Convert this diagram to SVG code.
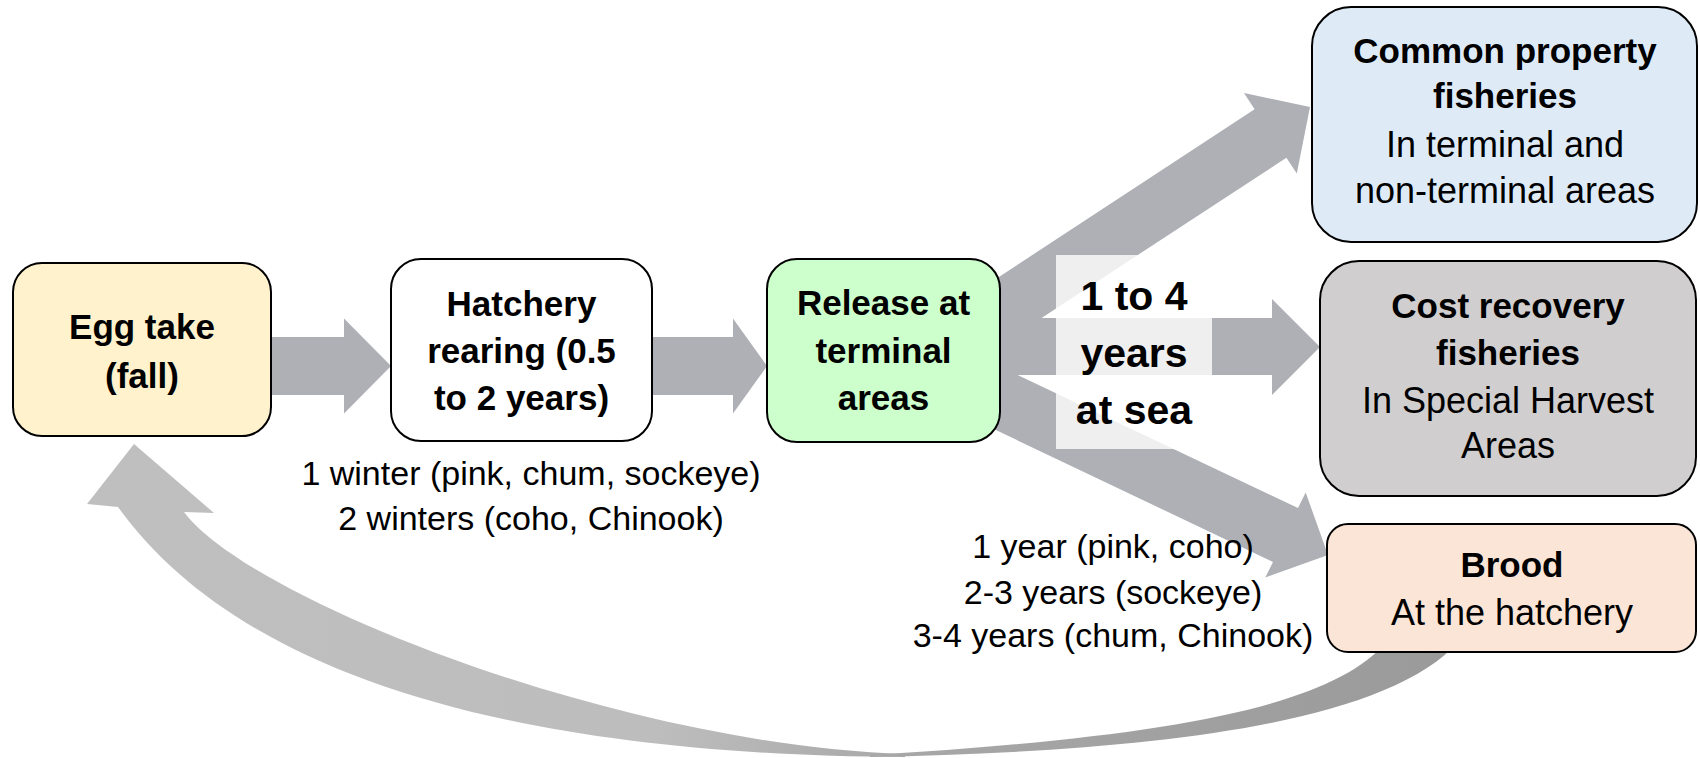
<svg xmlns="http://www.w3.org/2000/svg" width="1700" height="758" viewBox="0 0 1700 758">
<style>
.box{stroke:#000;stroke-width:2}
.arr{fill:#aeb0b6}
.b{font-family:"Liberation Sans",Arial,sans-serif;font-weight:bold;font-size:35px;fill:#000;text-anchor:middle}
.r{font-family:"Liberation Sans",Arial,sans-serif;font-size:36px;fill:#000;text-anchor:middle}
.a{font-family:"Liberation Sans",Arial,sans-serif;font-size:34px;fill:#000;text-anchor:middle}
.big{font-family:"Liberation Sans",Arial,sans-serif;font-weight:bold;font-size:41px;fill:#000;text-anchor:middle}
</style>
<defs>
  <linearGradient id="gl" x1="0" y1="0" x2="1" y2="0">
    <stop offset="0" stop-color="#bfbfbf"/>
    <stop offset="0.7" stop-color="#bdbdbd"/>
    <stop offset="1" stop-color="#a8a8a8"/>
  </linearGradient>
  <linearGradient id="gr" x1="0" y1="0" x2="1" y2="0">
    <stop offset="0" stop-color="#a8a8a8"/>
    <stop offset="1" stop-color="#9a9a9a"/>
  </linearGradient>
</defs>
<rect width="1700" height="758" fill="#fff"/>
<g id="connectors">
  <path class="arr" d="M260,337 L344,337 L344,318.5 L391,366 L344,413.5 L344,395 L260,395 Z"/>
  <path class="arr" d="M640,337 L733,337 L733,318.5 L767,366 L733,413.5 L733,395 L640,395 Z"/>
  <path class="arr" d="M924,326 L1254.6,109.3 L1244,93 L1310,107 L1296.8,173.6 L1286.4,157.7 L956,374 Z"/>
  <path class="arr" d="M950,318 L1272,318 L1272,299 L1320,347 L1272,395 L1272,375 L950,375 Z"/>
  <path class="arr" d="M962.7,348.9 L1298,508 L1305.7,492.6 L1328,555 L1265.3,577.4 L1273,562 L937.3,402.2 Z"/>
  <path fill="url(#gl)" d="M134,444 L214,513 L184,512 C250,600 620,745 905,754 L905,757 C483,755 231,664 118,507 L87,504 Z"/>
  <path fill="url(#gr)" d="M870,757 C1120,752 1380,730 1458,642 L1386,642 C1330,710 1150,738 870,755 Z"/>
</g>
<g id="label-sea">
  <rect x="1056" y="255" width="156" height="194" fill="#fff" fill-opacity="0.8"/>
  <text class="big" x="1134" y="310">1 to 4</text>
  <text class="big" x="1134" y="367">years</text>
  <text class="big" x="1134" y="424">at sea</text>
</g>
<g id="egg-take">
  <rect class="box" x="13" y="263" width="258" height="173" rx="29" fill="#fff2cc"/>
  <text class="b" x="142" y="339">Egg take</text>
  <text class="b" x="142" y="388">(fall)</text>
</g>
<g id="hatchery-rearing">
  <rect class="box" x="391" y="259" width="261" height="182" rx="30" fill="#fff"/>
  <text class="b" x="521.5" y="316">Hatchery</text>
  <text class="b" x="521.5" y="363">rearing (0.5</text>
  <text class="b" x="521.5" y="410">to 2 years)</text>
</g>
<g id="release">
  <rect class="box" x="767" y="259" width="233" height="183" rx="30" fill="#ccffcc"/>
  <text class="b" x="883.5" y="315">Release at</text>
  <text class="b" x="883.5" y="363">terminal</text>
  <text class="b" x="883.5" y="410">areas</text>
</g>
<g id="common-property">
  <rect class="box" x="1312" y="7" width="385" height="235" rx="39" fill="#deebf7"/>
  <text class="b" x="1505" y="63">Common property</text>
  <text class="b" x="1505" y="108">fisheries</text>
  <text class="r" x="1505" y="157">In terminal and</text>
  <text class="r" x="1505" y="203">non-terminal areas</text>
</g>
<g id="cost-recovery">
  <rect class="box" x="1320" y="261" width="376" height="235" rx="39" fill="#d0cece"/>
  <text class="b" x="1508" y="318">Cost recovery</text>
  <text class="b" x="1508" y="365">fisheries</text>
  <text class="r" x="1508" y="413">In Special Harvest</text>
  <text class="r" x="1508" y="458">Areas</text>
</g>
<g id="brood">
  <rect class="box" x="1327" y="524" width="369" height="128" rx="21" fill="#fbe5d6"/>
  <text class="b" x="1512" y="577">Brood</text>
  <text class="r" x="1512" y="625">At the hatchery</text>
</g>
<g id="notes">
  <text class="a" x="531" y="485">1 winter (pink, chum, sockeye)</text>
  <text class="a" x="531" y="530">2 winters (coho, Chinook)</text>
  <text class="a" x="1113" y="558">1 year (pink, coho)</text>
  <text class="a" x="1113" y="604">2-3 years (sockeye)</text>
  <text class="a" x="1113" y="647">3-4 years (chum, Chinook)</text>
</g>
</svg>
